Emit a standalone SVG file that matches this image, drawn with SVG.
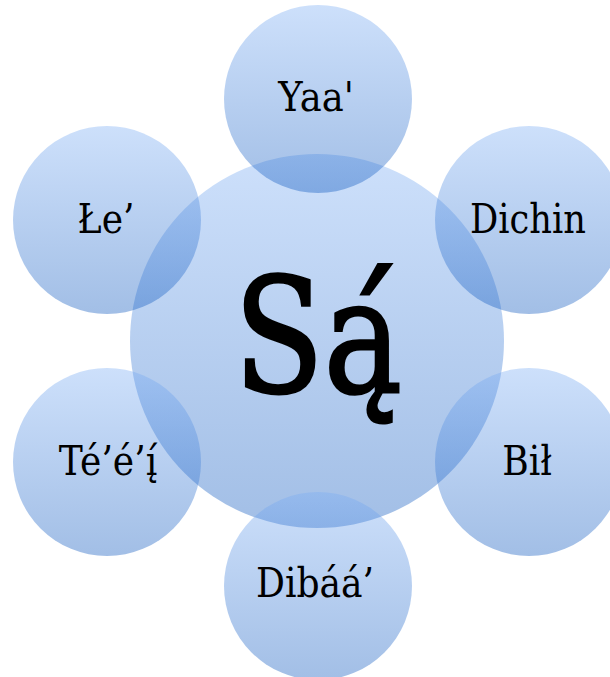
<svg xmlns="http://www.w3.org/2000/svg" width="610" height="677" viewBox="0 0 610 677">
  <style>
    .c { fill: url(#g); }
    .t { font-family: "DejaVu Serif", "Liberation Serif", serif; font-size: 41px; fill: #000; text-anchor: middle; }
    .big { font-size: 160px; stroke: #000; stroke-width: 3px; }
  </style>
  <defs>
    <linearGradient id="g" x1="0" y1="0" x2="0" y2="1">
      <stop offset="0" stop-color="#7badf4" stop-opacity="0.38"/>
      <stop offset="1" stop-color="#0a55bd" stop-opacity="0.38"/>
    </linearGradient>
  </defs>
  <rect width="610" height="677" fill="#ffffff"/>
  <g id="center">
    <circle class="c" cx="317" cy="341" r="187"/>
    <text class="t big" transform="translate(318 392) scale(0.82 1)">Są́</text>
  </g>
  <g id="yaa">
    <circle class="c" cx="318" cy="99" r="94"/>
    <text class="t" transform="translate(316 111) scale(0.9 1)">Yaa'</text>
  </g>
  <g id="le">
    <circle class="c" cx="107" cy="220" r="94"/>
    <text class="t" transform="translate(106 233) scale(0.88 1)">Łe’</text>
  </g>
  <g id="dichin">
    <circle class="c" cx="529" cy="220" r="94"/>
    <text class="t" transform="translate(528 233) scale(0.86 1)">Dichin</text>
  </g>
  <g id="teei">
    <circle class="c" cx="107" cy="462" r="94"/>
    <text class="t" transform="translate(108 475) scale(0.88 1)">Té’é’į́</text>
  </g>
  <g id="bil">
    <circle class="c" cx="529" cy="462" r="94"/>
    <text class="t" transform="translate(527 475) scale(0.88 1)">Bił</text>
  </g>
  <g id="dibaa">
    <circle class="c" cx="318" cy="586" r="94"/>
    <text class="t" transform="translate(315 597) scale(0.88 1)">Dibáá’</text>
  </g>
  <g id="connectors"></g>
</svg>
